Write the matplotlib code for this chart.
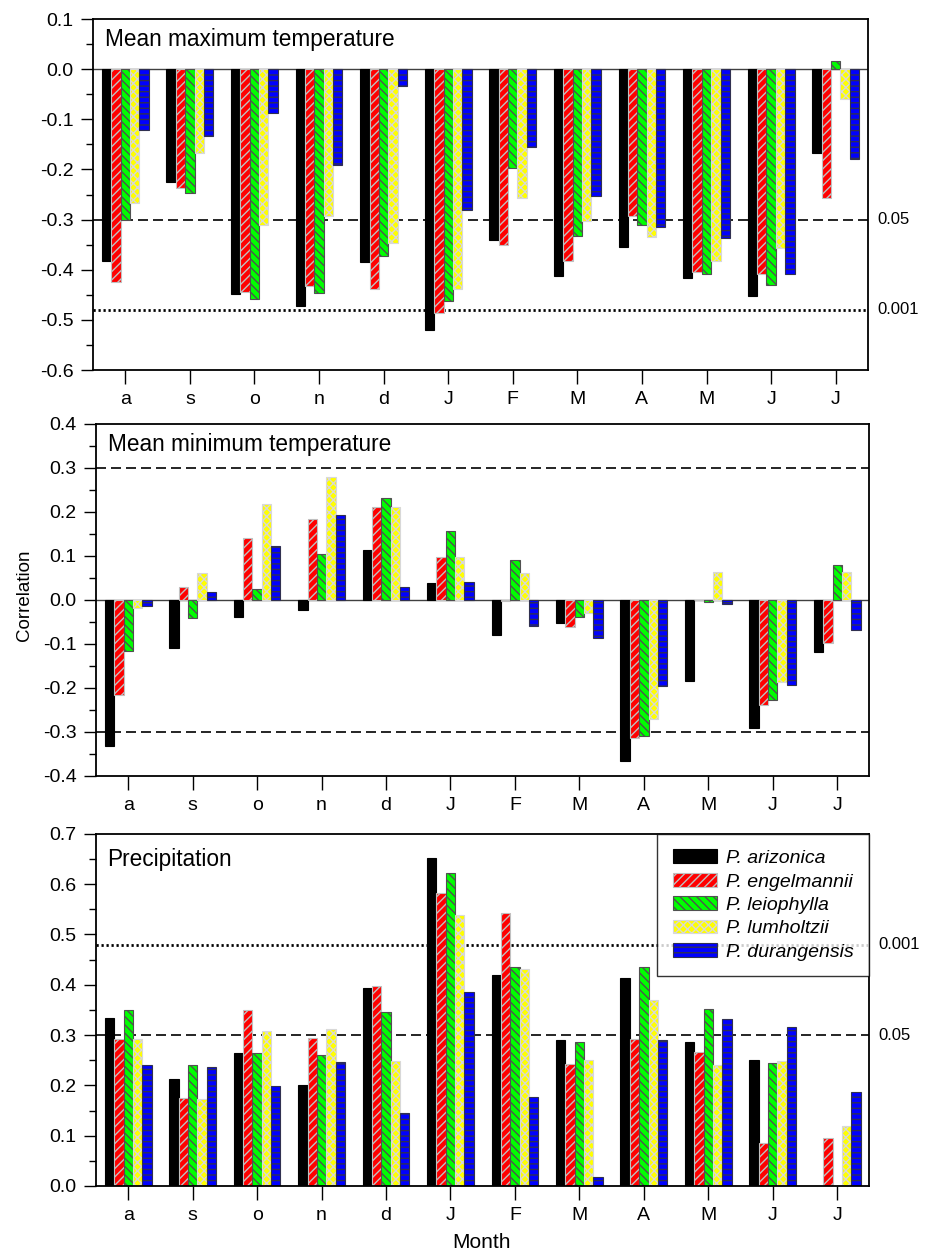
import matplotlib
matplotlib.use('Agg')
import matplotlib.pyplot as plt
import matplotlib.transforms as mtransforms
from matplotlib.ticker import MultipleLocator
import numpy as np

plt.rcParams['font.family'] = ['Liberation Sans', 'DejaVu Sans']
plt.rcParams['hatch.linewidth'] = 1.0

months = ['a', 's', 'o', 'n', 'd', 'J', 'F', 'M', 'A', 'M', 'J', 'J']
species = ['P. arizonica', 'P. engelmannii', 'P. leiophylla', 'P. lumholtzii', 'P. durangensis']

#mean maximum temperature
tmax_ari = [-0.383, -0.226, -0.449, -0.472, -0.384, -0.520, -0.340, -0.412, -0.355, -0.416, -0.453, -0.168]
tmax_eng = [-0.424, -0.237, -0.445, -0.432, -0.438, -0.486, -0.350, -0.382, -0.293, -0.404, -0.408, -0.257]
tmax_lei = [-0.300, -0.246, -0.459, -0.447, -0.373, -0.462, -0.197, -0.332, -0.311, -0.408, -0.430, 0.017]
tmax_lum = [-0.267, -0.168, -0.311, -0.292, -0.347, -0.438, -0.257, -0.303, -0.334, -0.382, -0.356, -0.060]
tmax_dur = [-0.122, -0.134, -0.088, -0.191, -0.034, -0.281, -0.156, -0.252, -0.314, -0.337, -0.409, -0.180]

#mean minimum temperature
tmin_ari = [-0.332, -0.108, -0.039, -0.023, 0.114, 0.039, -0.079, -0.052, -0.367, -0.183, -0.292, -0.118]
tmin_eng = [-0.215, 0.030, 0.140, 0.183, 0.211, 0.098, -0.002, -0.062, -0.313, -0.001, -0.239, -0.098]
tmin_lei = [-0.117, -0.042, 0.024, 0.104, 0.231, 0.156, 0.091, -0.038, -0.309, -0.005, -0.228, 0.079]
tmin_lum = [-0.019, 0.062, 0.219, 0.279, 0.212, 0.098, 0.061, -0.030, -0.271, 0.064, -0.186, 0.063]
tmin_dur = [-0.014, 0.017, 0.123, 0.194, 0.029, 0.040, -0.058, -0.087, -0.196, -0.009, -0.194, -0.069]

#precipitation
prec_ari = [0.334, 0.213, 0.265, 0.201, 0.394, 0.653, 0.420, 0.290, 0.414, 0.286, 0.251, 0.0]
prec_eng = [0.292, 0.175, 0.350, 0.295, 0.398, 0.583, 0.543, 0.243, 0.293, 0.267, 0.086, 0.096]
prec_lei = [0.350, 0.240, 0.265, 0.261, 0.346, 0.623, 0.435, 0.287, 0.435, 0.352, 0.244, 0.0]
prec_lum = [0.292, 0.172, 0.309, 0.313, 0.248, 0.539, 0.431, 0.251, 0.370, 0.240, 0.249, 0.120]
prec_dur = [0.240, 0.237, 0.198, 0.247, 0.145, 0.386, 0.176, 0.017, 0.291, 0.331, 0.317, 0.186]

#significance levels
sig_05 = 0.30
sig_001 = 0.48

#bar styles
colors = ['black', '#ff0000', '#00ff00', '#ffff00', '#0000ff']
edges = ['black', '#c0c0c0', '#505050', '#d8d8d8', '#303050']
hatches = [None, '////', '\\\\\\\\', 'xxxx', '---']
bw = 0.145

dash = (0, (6, 3))
dots = (0, (0.8, 1.0))

fig = plt.figure(figsize=(9.29, 12.51), dpi=100)

def panel(rect, data, title, ylim, title_y, sig_lines, sig_labels, zero_line=True, legend=False):
    ax = fig.add_axes(rect)
    x = np.arange(len(months))
    # reference lines behind bars
    for v, ls in sig_lines:
        lw = 1.2 if ls == dash else 2.0
        ax.axhline(v, color='black', lw=lw, linestyle=ls, zorder=0.5)
    if zero_line:
        ax.axhline(0, color='#404040', lw=1.0, zorder=0.6)
    for k in range(5):
        ax.bar(x + (k - 2) * bw, data[k], bw, color=colors[k], edgecolor=edges[k],
               hatch=hatches[k], linewidth=0.8, label=species[k], zorder=2)
    ax.set_xlim(-0.5, 11.5)
    ax.set_ylim(*ylim)
    ax.set_xticks(x)
    ax.set_xticklabels(months)
    ax.yaxis.set_major_locator(MultipleLocator(0.1))
    ax.yaxis.set_minor_locator(MultipleLocator(0.05))
    ax.yaxis.set_major_formatter(matplotlib.ticker.FormatStrFormatter('%.1f'))
    ax.tick_params(axis='x', length=10, width=1.0, pad=5, labelsize=14)
    ax.tick_params(axis='y', which='major', length=9, width=1.0, pad=5, labelsize=14)
    ax.tick_params(axis='y', which='minor', length=5, width=1.0)
    for s in ax.spines.values():
        s.set_linewidth(1.3)
    ax.text(0.015, title_y, title, transform=ax.transAxes, fontsize=16.3, va='baseline', ha='left')
    trans = mtransforms.blended_transform_factory(ax.transAxes, ax.transData)
    for v, lab in sig_labels:
        ax.text(1.012, v, lab, transform=trans, fontsize=12, va='center', ha='left')
    if legend:
        leg = ax.legend(loc='upper right', borderaxespad=0, fancybox=False, edgecolor='black',
                        prop={'style': 'italic', 'size': 14}, handlelength=2.3, handleheight=0.7,
                        labelspacing=0.3, borderpad=0.8, handletextpad=0.45)
        leg.get_frame().set_linewidth(1.0)
    return ax

panel([0.1001, 0.7042, 0.8342, 0.2806],
      [tmax_ari, tmax_eng, tmax_lei, tmax_lum, tmax_dur],
      'Mean maximum temperature', (-0.6, 0.1), 0.924,
      [(-sig_05, dash), (-sig_001, dots)],
      [(-sig_05, '0.05'), (-sig_001, '0.001')])

panel([0.1033, 0.3797, 0.8326, 0.2814],
      [tmin_ari, tmin_eng, tmin_lei, tmin_lum, tmin_dur],
      'Mean minimum temperature', (-0.4, 0.4), 0.923,
      [(sig_05, dash), (-sig_05, dash)],
      [])

panel([0.1033, 0.0520, 0.8326, 0.2814],
      [prec_ari, prec_eng, prec_lei, prec_lum, prec_dur],
      'Precipitation', (0.0, 0.7), 0.91,
      [(sig_05, dash), (sig_001, dots)],
      [(sig_05, '0.05'), (sig_001, '0.001')], zero_line=False, legend=True)

fig.text(0.026, 0.5244, 'Correlation', rotation=90, fontsize=13.5, ha='center', va='center')
fig.text(0.5185, 0.0024, 'Month', fontsize=15, ha='center', va='baseline')

fig.savefig('out.png', dpi=100)
